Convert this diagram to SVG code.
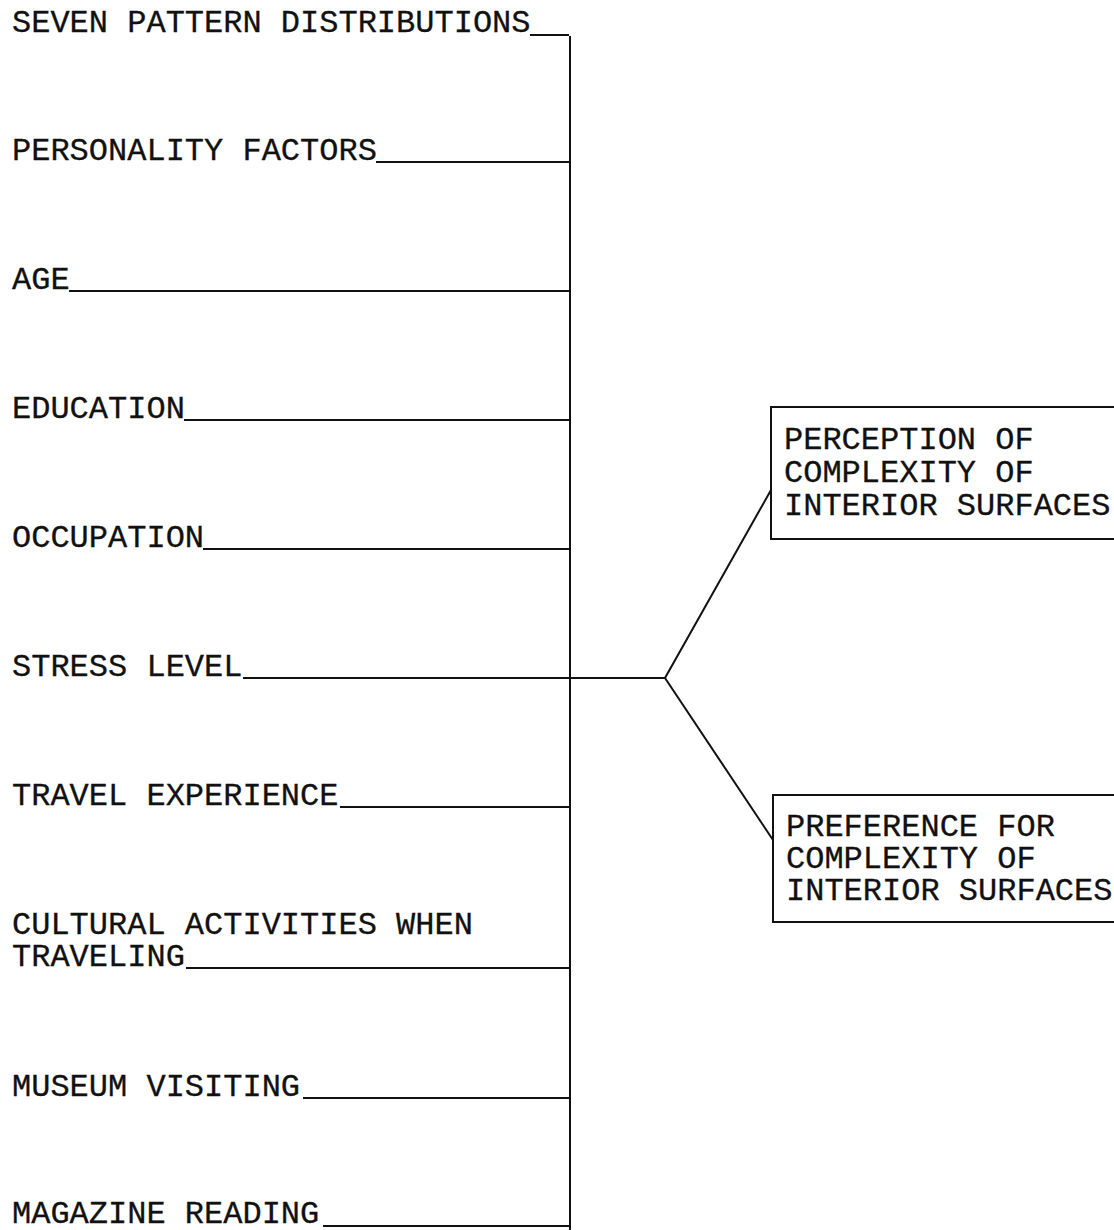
<svg xmlns="http://www.w3.org/2000/svg" width="1114" height="1230" viewBox="0 0 1114 1230">
<style>
text{font-family:"Liberation Mono","Courier New",monospace;font-size:32px;fill:#111;stroke:#111;stroke-width:0.3}
.ln{stroke:#111;stroke-width:2;fill:none}
.box{stroke:#111;stroke-width:2;fill:#fff}
</style>
<rect width="1114" height="1230" fill="#fff"/>
<g id="connectors">
<line class="ln" x1="570" y1="36" x2="570" y2="1230"/>
<line class="ln" x1="530" y1="35" x2="569" y2="35"/>
<line class="ln" x1="376" y1="162" x2="570" y2="162"/>
<line class="ln" x1="69" y1="291" x2="570" y2="291"/>
<line class="ln" x1="184" y1="420" x2="570" y2="420"/>
<line class="ln" x1="203" y1="549" x2="570" y2="549"/>
<line class="ln" x1="243" y1="678" x2="665" y2="678"/>
<line class="ln" x1="340" y1="807" x2="570" y2="807"/>
<line class="ln" x1="186" y1="968" x2="570" y2="968"/>
<line class="ln" x1="303" y1="1098" x2="570" y2="1098"/>
<line class="ln" x1="323" y1="1226" x2="570" y2="1226"/>
<polyline class="ln" points="771,490 665,678 773,840"/>
</g>
<g id="n-seven"><text x="12" y="32">SEVEN PATTERN DISTRIBUTIONS</text></g>
<g id="n-personality"><text x="12" y="160">PERSONALITY FACTORS</text></g>
<g id="n-age"><text x="12" y="289">AGE</text></g>
<g id="n-education"><text x="12" y="418">EDUCATION</text></g>
<g id="n-occupation"><text x="12" y="547">OCCUPATION</text></g>
<g id="n-stress"><text x="12" y="676">STRESS LEVEL</text></g>
<g id="n-travel"><text x="12" y="805">TRAVEL EXPERIENCE</text></g>
<g id="n-cultural"><text x="12" y="934">CULTURAL ACTIVITIES WHEN</text><text x="12" y="966">TRAVELING</text></g>
<g id="n-museum"><text x="12" y="1096">MUSEUM VISITING</text></g>
<g id="n-magazine"><text x="12" y="1223">MAGAZINE READING</text></g>
<g id="n-perception">
<rect class="box" x="771" y="407" width="360" height="132"/>
<text x="784" y="449">PERCEPTION OF</text>
<text x="784" y="482">COMPLEXITY OF</text>
<text x="784" y="515">INTERIOR SURFACES</text>
</g>
<g id="n-preference">
<rect class="box" x="773" y="795" width="360" height="127"/>
<text x="786" y="836">PREFERENCE FOR</text>
<text x="786" y="868">COMPLEXITY OF</text>
<text x="786" y="900">INTERIOR SURFACES</text>
</g>
</svg>
